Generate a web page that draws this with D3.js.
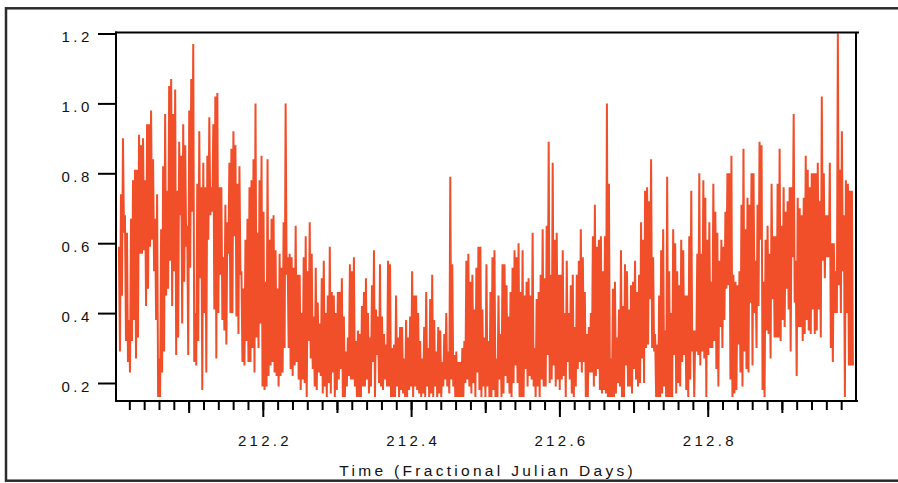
<!DOCTYPE html>
<html><head><meta charset="utf-8">
<script src="https://cdn.jsdelivr.net/npm/d3@7"></script>
<style>html,body{margin:0;padding:0;background:#fff;} svg{display:block;}</style>
</head><body>
<svg id="chart" width="898" height="483"></svg>
<script>
// ---- data ----
const startDay = 212.006;          // first sample, fractional Julian day
const stepDays = 1 / 738.5;        // sampling interval (~2 min)
const values = [
.59,.29, .74,.45, .90,.63, .68,.32, .63,.26, .38,.23, .67,.32, .78,.38, .81,.27, .81,.33,
.91,.57, .88,.57, .90,.58, .78,.42, .94,.47, .94,.59, .98,.61, .84,.52, .67,.38, .74,.16,
.27,.16, .64,.23, .82,.29, .97,.45, .75,.47, 1.05,.55, 1.07,.42, .97,.52, 1.04,.28, .75,.33,
.89,.68, .85,.37, .94,.49, .88,.59, .65,.28, .98,.53, 1.07,.69, 1.17,.26, .40,.25, .77,.32,
.92,.50, .76,.18, .83,.40, .76,.23, .85,.61, .96,.68, .76,.69, .94,.41, 1.02,.27, 1.03,.40,
.76,.51, .76,.38, .56,.35, .71,.31, .66,.57, .83,.40, .87,.40, .92,.62, .88,.39, .77,.34,
.82,.51, .52,.26, .47,.25, .61,.32, .67,.26, .76,.26, .78,.30, .84,.23, 1.00,.33, .63,.30,
.78,.37, .85,.19, .69,.18, .49,.19, .84,.22, .61,.25, .67,.26, .68,.23, .58,.22, .47,.19,
.57,.22, .53,.23, .66,.30, 1.00,.51, .56,.30, .57,.24, .56,.22, .53,.25, .65,.26, .51,.21,
.51,.18, .40,.21, .56,.20, .62,.16, .52,.32, .66,.27, .57,.24, .39,.19, .53,.18, .43,.23,
.37,.22, .50,.17, .55,.19, .40,.16, .45,.20, .59,.17, .46,.23, .45,.16, .40,.18, .46,.21,
.46,.24, .50,.16, .39,.16, .29,.19, .33,.22, .54,.21, .52,.21, .56,.19, .32,.16, .35,.16,
.34,.16, .42,.19, .46,.19, .50,.21, .40,.17, .33,.19, .48,.26, .58,.16, .41,.28, .39,.20,
.54,.19, .39,.18, .34,.21, .31,.19, .55,.19, .54,.16, .30,.16, .31,.16, .45,.19, .33,.16,
.36,.18, .36,.17, .27,.16, .38,.16, .33,.18, .39,.19, .52,.16, .45,.19, .45,.18, .40,.17,
.32,.16, .27,.17, .36,.16, .46,.19, .30,.16, .44,.17, .51,.16, .38,.19, .29,.16, .36,.17,
.35,.16, .26,.19, .34,.21, .40,.19, .29,.17, .79,.21, .54,.19, .28,.16, .29,.16, .26,.16,
.26,.16, .30,.16, .32,.20, .55,.21, .57,.19, .49,.17, .51,.20, .41,.16, .53,.23, .59,.18,
.59,.16, .41,.19, .33,.16, .54,.19, .32,.16, .46,.16, .56,.18, .58,.16, .27,.16, .45,.21,
.34,.16, .54,.17, .54,.22, .48,.20, .39,.17, .46,.16, .53,.20, .58,.25, .56,.20, .60,.16,
.46,.16, .58,.16, .45,.24, .49,.19, .50,.22, .45,.21, .63,.19, .30,.16, .44,.19, .46,.16,
.51,.21, .64,.19, .50,.19, .65,.28, .89,.20, .51,.21, .83,.25, .61,.19, .63,.21, .51,.18,
.51,.21, .58,.22, .40,.16, .55,.26, .40,.21, .48,.17, .51,.16, .36,.19, .51,.24, .55,.26,
.64,.23, .56,.26, .46,.16, .34,.16, .36,.23, .40,.23, .62,.19, .71,.22, .59,.24, .61,.18,
.62,.17, .52,.18, .62,.17, 1.00,.16, .77,.16, .27,.16, .47,.16, .49,.17, .33,.20, .41,.19,
.58,.16, .42,.16, .54,.25, .52,.19, .41,.19, .48,.17, .49,.24, .55,.21, .46,.19, .51,.20,
.66,.27, .61,.20, .75,.30, .76,.31, .72,.44, .84,.30, .56,.29, .34,.16, .31,.16, .45,.16,
.58,.17, .64,.19, .35,.16, .79,.16, .52,.16, .40,.16, .64,.28, .60,.17, .52,.20, .48,.19,
.61,.26, .58,.28, .45,.18, .45,.16, .62,.21, .75,.29, .35,.16, .35,.29, .57,.28, .80,.25,
.57,.29, .78,.27, .73,.16, .61,.28, .66,.30, .49,.30, .77,.32, .69,.24, .63,.19, .55,.36,
.61,.30, .59,.38, .69,.47, .80,.48, .80,.21, .85,.16, .51,.17, .49,.18, .48,.31, .52,.23,
.71,.19, .87,.29, .64,.24, .73,.23, .71,.43, .80,.25, .80,.40, .55,.30, .71,.42, .89,.61,
.88,.18, .49,.16, .61,.35, .65,.34, .57,.27, .77,.44, .62,.33, .62,.33, .77,.33, .87,.32,
.65,.38, .76,.36, .69,.47, .72,.41, .76,.29, .76,.56, .97,.43, .55,.22, .73,.36, .70,.36,
.68,.32, .73,.34, .85,.38, .81,.35, .76,.34, .80,.41, .80,.34, .80,.35, .83,.41, .72,.33,
1.02,.55, .80,.50, .68,.56, .68,.56, .83,.30, .60,.26, .60,.40, .52,.40, 1.20,.48, .81,.40,
.92,.52, .68,.16, .78,.40, .77,.25, .75,.25, .75,.25
];
const yTickValues = [0.2, 0.4, 0.6, 0.8, 1.0, 1.2];
const xMajorTicks = [212.2, 212.4, 212.6, 212.8];
const xMediumTicks = [212.1, 212.3, 212.5, 212.7, 212.9];
const xMinorCount = 49;            // minor ticks every 0.02 day
const xTitle = "Time (Fractional Julian Days)";

// ---- drawing ----
const svg = d3.select("#chart");
const font = "'Liberation Sans', Arial, Helvetica, sans-serif";
const plot = {left: 116, right: 856, top: 32.5, bottom: 401};
const x = d3.scaleLinear().domain([212, 213]).range([114.5, 856]);
const y = d3.scaleLinear().domain([0.2, 1.2]).range([383, 33.5]);

// outer frame
svg.append("rect").attr("x", 6).attr("y", 8.3).attr("width", 900).attr("height", 472.4)
  .attr("fill", "none").attr("stroke", "#2b2b2b").attr("stroke-width", 2.5);

// series
const data = values.map((v, i) => ({t: startDay + i * stepDays, v}));
svg.append("path").datum(data)
  .attr("fill", "none").attr("stroke", "#F14E2A").attr("stroke-width", 2)
  .attr("stroke-linejoin", "miter").attr("stroke-miterlimit", 1)
  .attr("d", d3.line().x(d => x(d.t)).y(d => y(d.v)));

// plot box
const box = svg.append("g").attr("stroke", "#000").attr("stroke-width", 2);
box.append("line").attr("x1", plot.left).attr("x2", plot.left).attr("y1", plot.top - 1).attr("y2", plot.bottom + 1);
box.append("line").attr("x1", plot.left - 1).attr("x2", 859).attr("y1", plot.top).attr("y2", plot.top);
box.append("line").attr("x1", plot.right).attr("x2", plot.right).attr("y1", plot.top).attr("y2", plot.bottom);
box.append("line").attr("x1", plot.left - 1).attr("x2", 858).attr("y1", plot.bottom).attr("y2", plot.bottom);

// y axis
const gy = svg.append("g").attr("transform", `translate(${plot.left},0)`)
  .call(d3.axisLeft(y).tickValues(yTickValues).tickSize(18).tickFormat(d3.format(".1f")));
gy.select(".domain").remove();
gy.selectAll(".tick line").attr("stroke", "#000").attr("stroke-width", 2);
gy.selectAll(".tick text").attr("x", -23.2).attr("dy", 8.4)
  .attr("fill", "#111").style("font-family", font).style("font-size", "15px").style("letter-spacing", "3.5px");

// x axis: minor, medium, major ticks
const minorTicks = d3.range(1, xMinorCount + 1).map(i => 212 + i * 0.02);
function xAxisLayer(ticks, size, labels) {
  const g = svg.append("g").attr("transform", `translate(0,${plot.bottom})`)
    .call(d3.axisBottom(x).tickValues(ticks).tickSize(size).tickFormat(labels ? d3.format(".1f") : ""));
  g.select(".domain").remove();
  g.selectAll(".tick line").attr("stroke", "#000").attr("stroke-width", 2);
  return g;
}
xAxisLayer(minorTicks, 9, false);
xAxisLayer(xMediumTicks, 12, false);
const gx = xAxisLayer(xMajorTicks, 16, true);
gx.selectAll(".tick text").attr("y", 45).attr("dy", 0).attr("x", 1.6)
  .attr("fill", "#111").style("font-family", font).style("font-size", "15px").style("letter-spacing", "3.3px");

// x title
svg.append("text").attr("x", (plot.left + plot.right) / 2 + 1.7).attr("y", 476)
  .attr("text-anchor", "middle").attr("fill", "#111")
  .style("font-family", font).style("font-size", "15.5px").style("letter-spacing", "3.3px")
  .text(xTitle);
</script>
</body></html>
